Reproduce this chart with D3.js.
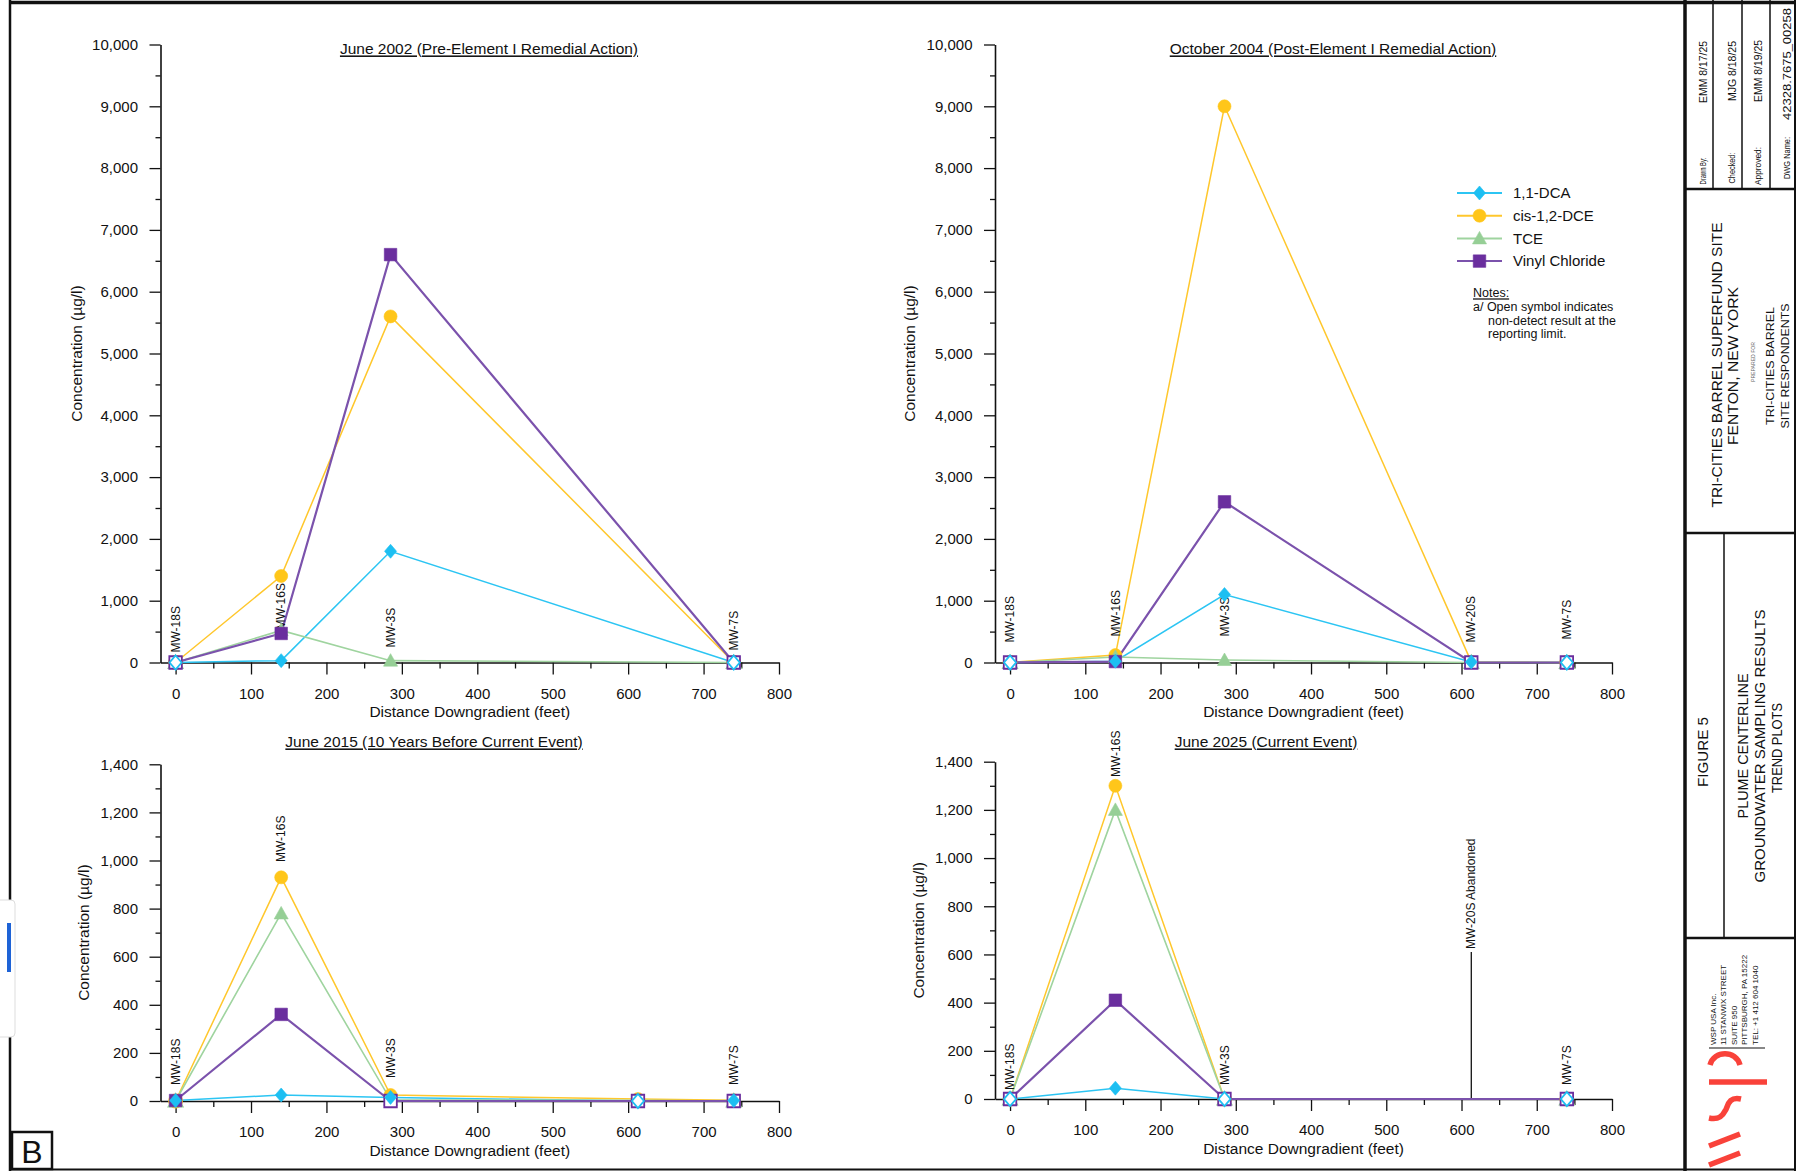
<!DOCTYPE html>
<html>
<head>
<meta charset="utf-8">
<script src="https://cdnjs.cloudflare.com/ajax/libs/d3/7.8.5/d3.min.js"></script>
<style>
  body { margin: 0; background: #fff; }
  svg { display: block; font-family: "Liberation Sans", Arial, sans-serif; }
</style>
</head>
<body>
<div id="chart"></div>
<script>
// wells along the plume centerline and their distance downgradient (feet)
var wells = ["MW-18S", "MW-16S", "MW-3S", "MW-20S", "MW-7S"];
var distance = [0, 140, 285, 613, 740];

var compounds = ["1,1-DCA", "cis-1,2-DCE", "TCE", "Vinyl Chloride"];

// concentrations (ug/l), null = not sampled, 0 = non-detect
var dca2002 = [0, 30, 1800, null, 0];
var dce2002 = [0, 1400, 5600, null, 0];
var tce2002 = [0, 520, 30, null, 0];
var vc2002  = [0, 470, 6600, null, 0];

var dca2004 = [0, 20, 1100, 10, 0];
var dce2004 = [0, 120, 9000, 10, 0];
var tce2004 = [0, 90, 40, 0, 0];
var vc2004  = [0, 15, 2600, 0, 0];

var dca2015 = [2, 25, 15, 0, 2];
var dce2015 = [0, 930, 25, 8, 3];
var tce2015 = [0, 780, 5, 3, 0];
var vc2015  = [2, 360, 0, 0, 0];

var dca2025 = [0, 45, 0, null, 0];
var dce2025 = [0, 1300, 0, null, 0];
var tce2025 = [0, 1200, 0, null, 0];
var vc2025  = [0, 410, 0, null, 0];

// MW-20S abandoned before 2025
var abandonedLabel = "MW-20S Abandoned";
var abandonedDist = 613;
var abandonedTop = 610;

// tick labels
var xTicks = [0, 100, 200, 300, 400, 500, 600, 700, 800];
var yTicksHigh = [0, 1000, 2000, 3000, 4000, 5000, 6000, 7000, 8000, 9000, 10000];
var yTicksLow = [0, 200, 400, 600, 800, 1000, 1200, 1400];

var width = 1796, height = 1171;

var styles = [
    { line: "#2CC5F3", mark: "#1DBFF2", shape: "diamond", w: 1.5 },
    { line: "#FFC72C", mark: "#FFC61A", shape: "circle", w: 1.5 },
    { line: "#9FD49F", mark: "#96CF96", shape: "triangle", w: 1.6 },
    { line: "#7B52AC", mark: "#6A2E9E", shape: "square", w: 2.2 }
];

var panels = [
    { title: "June 2002 (Pre-Element I Remedial Action)", series: [dca2002, dce2002, tce2002, vc2002],
      yTicks: yTicksHigh, minorStep: 500, left: 160.5, right: 779, top: 44.5, bottom: 662.5,
      titleX: 489, titleY: 49, yTitleOff: 84,
      tags: { "MW-18S": 10, "MW-16S": 33, "MW-3S": 15, "MW-7S": 12 } },
    { title: "October 2004 (Post-Element I Remedial Action)", series: [dca2004, dce2004, tce2004, vc2004],
      yTicks: yTicksHigh, minorStep: 500, left: 995, right: 1612, top: 44.5, bottom: 662.5,
      titleX: 1333, titleY: 49, yTitleOff: 85,
      tags: { "MW-18S": 20, "MW-16S": 26, "MW-3S": 26, "MW-20S": 20, "MW-7S": 23 }, legend: true },
    { title: "June 2015 (10 Years Before Current Event)", series: [dca2015, dce2015, tce2015, vc2015],
      yTicks: yTicksLow, minorStep: 100, left: 160.5, right: 779, top: 764.3, bottom: 1101,
      titleX: 434, titleY: 742, yTitleOff: 76.5,
      tags: { "MW-18S": 16, "MW-16S": 239, "MW-3S": 23, "MW-7S": 16 } },
    { title: "June 2025 (Current Event)", series: [dca2025, dce2025, tce2025, vc2025],
      yTicks: yTicksLow, minorStep: 100, left: 995, right: 1612, top: 761.7, bottom: 1099,
      titleX: 1266, titleY: 742, yTitleOff: 76.5,
      tags: { "MW-18S": 9, "MW-16S": 322, "MW-3S": 14, "MW-7S": 14 }, abandoned: true }
];

var svg = d3.select("#chart").append("svg")
    .attr("width", width)
    .attr("height", height);

svg.append("rect").attr("width", width).attr("height", height).attr("fill", "#fff");

function shapePath(kind, cx, cy, s) {
    if (kind === "diamond") {
        return "M" + cx + "," + (cy - 7 * s) + "L" + (cx + 6 * s) + "," + cy +
            "L" + cx + "," + (cy + 7 * s) + "L" + (cx - 6 * s) + "," + cy + "Z";
    }
    if (kind === "triangle") {
        return "M" + cx + "," + (cy - 7 * s) + "L" + (cx + 7 * s) + "," + (cy + 5.5 * s) +
            "L" + (cx - 7 * s) + "," + (cy + 5.5 * s) + "Z";
    }
    // square
    return "M" + (cx - 6.25 * s) + "," + (cy - 6.25 * s) + "h" + (12.5 * s) + "v" + (12.5 * s) + "h" + (-12.5 * s) + "Z";
}

function marker(g, st, cx, cy, open, s) {
    s = s || 1;
    var el;
    if (st.shape === "circle") {
        el = g.append("circle").attr("cx", cx).attr("cy", cy).attr("r", 6.5 * s);
    } else {
        el = g.append("path").attr("d", shapePath(st.shape, cx, cy, s));
    }
    el.attr("fill", open ? "#fff" : st.mark)
        .attr("stroke", st.mark)
        .attr("stroke-width", open ? 1.8 : 0.6);
}

panels.forEach(function(p) {
    var g = svg.append("g");

    var x = d3.scaleLinear().domain([-20, 800]).range([p.left, p.right]);
    var yMax = p.yTicks[p.yTicks.length - 1];
    var y = d3.scaleLinear().domain([0, yMax]).range([p.bottom, p.top]);

    // minor ticks
    var yMinor = d3.range(0, yMax + 1, p.minorStep).filter(function(v) { return p.yTicks.indexOf(v) < 0; });
    var xMinor = d3.range(50, 800, 100);

    g.append("g")
        .attr("transform", "translate(" + p.left + ",0)")
        .call(d3.axisLeft(y).tickValues(yMinor).tickFormat("").tickSize(5).tickSizeOuter(0))
        .call(function(a) { a.select(".domain").remove(); });

    g.append("g")
        .attr("transform", "translate(0," + p.bottom + ")")
        .call(d3.axisBottom(x).tickValues(xMinor).tickFormat("").tickSize(6).tickSizeOuter(0))
        .call(function(a) { a.select(".domain").remove(); });

    var yAxis = g.append("g")
        .attr("transform", "translate(" + p.left + ",0)")
        .call(d3.axisLeft(y).tickValues(p.yTicks).tickFormat(d3.format(",")).tickSize(11).tickPadding(11.5).tickSizeOuter(0));

    var xAxis = g.append("g")
        .attr("transform", "translate(0," + p.bottom + ")")
        .call(d3.axisBottom(x).tickValues(xTicks).tickSize(12).tickPadding(13.5).tickSizeOuter(0));

    g.selectAll(".tick line").attr("stroke", "#111").attr("stroke-width", 1.3);
    g.selectAll(".domain").attr("stroke", "#111").attr("stroke-width", 1.6);
    [yAxis, xAxis].forEach(function(a) {
        a.selectAll("text").attr("font-size", 15).attr("fill", "#111")
            .attr("font-family", "Liberation Sans, Arial, sans-serif");
    });

    // titles
    g.append("text")
        .attr("x", p.titleX).attr("y", p.titleY)
        .attr("dy", "0.35em")
        .attr("text-anchor", "middle")
        .attr("font-size", 15.5)
        .attr("text-decoration", "underline")
        .attr("fill", "#111")
        .text(p.title);

    g.append("text")
        .attr("x", (p.left + p.right) / 2).attr("y", p.bottom + 49.5)
        .attr("dy", "0.35em")
        .attr("text-anchor", "middle")
        .attr("font-size", 15.5)
        .attr("fill", "#111")
        .text("Distance Downgradient (feet)");

    g.append("text")
        .attr("transform", "translate(" + (p.left - p.yTitleOff) + "," + ((p.top + p.bottom) / 2) + ") rotate(-90)")
        .attr("dy", "0.35em")
        .attr("text-anchor", "middle")
        .attr("font-size", 15.5)
        .attr("fill", "#111")
        .text("Concentration (\u00b5g/l)");

    // abandoned well marker
    if (p.abandoned) {
        g.append("line")
            .attr("x1", x(abandonedDist)).attr("x2", x(abandonedDist))
            .attr("y1", y(0)).attr("y2", y(abandonedTop))
            .attr("stroke", "#111").attr("stroke-width", 1.3);
        g.append("text")
            .attr("transform", "translate(" + x(abandonedDist) + "," + (y(abandonedTop) - 3) + ") rotate(-90)")
            .attr("dy", "0.35em")
            .attr("font-size", 12)
            .attr("fill", "#111")
            .text(abandonedLabel);
    }

    // series lines
    var pts = p.series.map(function(vals) {
        return vals.map(function(v, i) { return { d: distance[i], v: v }; })
            .filter(function(o) { return o.v !== null; });
    });

    var line = d3.line()
        .x(function(o) { return x(o.d); })
        .y(function(o) { return y(o.v); });

    pts.forEach(function(ps, k) {
        g.append("path")
            .datum(ps)
            .attr("fill", "none")
            .attr("stroke", styles[k].line)
            .attr("stroke-width", styles[k].w)
            .attr("d", line);
    });

    // well labels
    Object.keys(p.tags).forEach(function(name) {
        var i = wells.indexOf(name);
        g.append("text")
            .attr("transform", "translate(" + x(distance[i]) + "," + (y(0) - p.tags[name]) + ") rotate(-90)")
            .attr("dy", "0.35em")
            .attr("font-size", 12)
            .attr("fill", "#111")
            .text(name);
    });

    // markers: open symbol = non-detect
    [1, 2, 3, 0].forEach(function(k) {
        pts[k].forEach(function(o) {
            marker(g, styles[k], x(o.d), y(o.v), o.v === 0);
        });
    });

    if (p.legend) {
        var lg = svg.append("g");
        compounds.forEach(function(c, k) {
            var ly = 193 + k * 22.7;
            lg.append("line").attr("x1", 1457).attr("x2", 1502).attr("y1", ly).attr("y2", ly)
                .attr("stroke", styles[k].line).attr("stroke-width", 2);
            marker(lg, styles[k], 1479.5, ly, false);
            lg.append("text").attr("x", 1513).attr("y", ly).attr("dy", "0.35em")
                .attr("font-size", 15).attr("fill", "#111").text(c);
        });
        lg.append("text").attr("x", 1473).attr("y", 293).attr("dy", "0.35em")
            .attr("font-size", 12.5).attr("text-decoration", "underline").attr("fill", "#111").text("Notes:");
        var notes = ["a/ Open symbol indicates", "non-detect result at the", "reporting limit."];
        notes.forEach(function(t, i) {
            lg.append("text").attr("x", i === 0 ? 1473 : 1488).attr("y", 307 + i * 13.5).attr("dy", "0.35em")
                .attr("font-size", 12.5).attr("fill", "#111").text(t);
        });
    }
});

// drawing frame
var fr = svg.append("g").attr("stroke", "#111").attr("fill", "none");
fr.append("line").attr("x1", 10).attr("x2", 1796).attr("y1", 2.5).attr("y2", 2.5).attr("stroke-width", 3.5);
fr.append("line").attr("x1", 10).attr("x2", 10).attr("y1", 0).attr("y2", 1171).attr("stroke-width", 2.5);
fr.append("line").attr("x1", 10).attr("x2", 1796).attr("y1", 1169.5).attr("y2", 1169.5).attr("stroke-width", 2);
fr.append("line").attr("x1", 1685).attr("x2", 1685).attr("y1", 0).attr("y2", 1171).attr("stroke-width", 3.5);
fr.append("line").attr("x1", 1795).attr("x2", 1795).attr("y1", 0).attr("y2", 1171).attr("stroke-width", 2);

// title block grid
[1713, 1742, 1770].forEach(function(xx) {
    fr.append("line").attr("x1", xx).attr("x2", xx).attr("y1", 0).attr("y2", 189).attr("stroke-width", 1.5);
});
fr.append("line").attr("x1", 1685).attr("x2", 1796).attr("y1", 189).attr("y2", 189).attr("stroke-width", 2.5);
fr.append("line").attr("x1", 1685).attr("x2", 1796).attr("y1", 533).attr("y2", 533).attr("stroke-width", 2.5);
fr.append("line").attr("x1", 1724).attr("x2", 1724).attr("y1", 533).attr("y2", 938).attr("stroke-width", 1.5);
fr.append("line").attr("x1", 1685).attr("x2", 1796).attr("y1", 938).attr("y2", 938).attr("stroke-width", 2.5);

var tb = svg.append("g").attr("fill", "#111");

function vtext(cx, cy, str, size, anchor, len) {
    var t = tb.append("text")
        .attr("transform", "translate(" + (cx + size * 0.36) + "," + cy + ") rotate(-90)")
        .attr("text-anchor", anchor || "middle")
        .attr("font-size", size)
        .text(str);
    if (len) t.attr("textLength", len).attr("lengthAdjust", "spacingAndGlyphs");
    return t;
}

vtext(1703, 171, "Drawn  By:", 9, "middle", 27);
vtext(1732, 168, "Checked:", 9, "middle", 31);
vtext(1758, 166, "Approved:", 9, "middle", 38);
vtext(1787, 158, "DWG  Name:", 9, "middle", 42);
vtext(1703, 72, "EMM 8/17/25", 10.5, "middle", 62);
vtext(1732, 71, "MJG 8/18/25", 10.5, "middle", 60);
vtext(1758, 71, "EMM 8/19/25", 10.5, "middle", 62);
vtext(1787, 64, "42328.7675_00258", 10.5, "middle", 112);

vtext(1717, 365, "TRI-CITIES BARREL SUPERFUND SITE", 15, "middle", 285);
vtext(1733, 366, "FENTON, NEW YORK", 15, "middle", 158);
vtext(1753, 362, "PREPARED FOR", 5.5, "middle", 40).attr("fill", "#666");
vtext(1770, 366, "TRI-CITIES BARREL", 11.5, "middle", 118);
vtext(1785, 366, "SITE RESPONDENTS", 11.5, "middle", 125);

vtext(1703, 752, "FIGURE 5", 14.5, "middle", 70);
vtext(1743, 746, "PLUME CENTERLINE", 14, "middle", 145);
vtext(1760, 746, "GROUNDWATER SAMPLING RESULTS", 14, "middle", 273);
vtext(1777, 748, "TREND PLOTS", 14, "middle", 90);

var address = ["WSP USA Inc.", "11 STANWIX STREET", "SUITE 950", "PITTSBURGH, PA 15222", "TEL: +1 412 604 1040"];
address.forEach(function(a, i) {
    vtext(1713 + i * 10.5, 1045, a, 8, "start");
});
fr.append("line").attr("x1", 1709).attr("x2", 1765).attr("y1", 1048).attr("y2", 1048).attr("stroke-width", 1.2);

// WSP logo (rotated)
var logo = svg.append("g").attr("stroke", "#F9423A").attr("fill", "none").attr("stroke-width", 5.5).attr("stroke-linecap", "butt");
logo.append("path").attr("d", "M1710,1065 C1714,1050 1736,1050 1740,1065");
logo.append("path").attr("d", "M1709,1082 L1767,1082");
logo.append("path").attr("d", "M1741,1099 C1727,1096 1728,1108 1725,1111 C1722,1117 1718,1120 1709,1118");
logo.append("path").attr("d", "M1709,1146 L1740,1134");
logo.append("path").attr("d", "M1709,1165 L1740,1153");

// "B" box
svg.append("rect").attr("x", 12).attr("y", 1132).attr("width", 40).attr("height", 37)
    .attr("fill", "#fff").attr("stroke", "#111").attr("stroke-width", 2.5);
svg.append("text").attr("x", 32).attr("y", 1163).attr("text-anchor", "middle")
    .attr("font-size", 32).attr("fill", "#111").text("B");

// viewer side tab artifact at left edge
svg.append("rect").attr("x", -4).attr("y", 900).attr("width", 19).attr("height", 137).attr("rx", 4)
    .attr("fill", "#fff").attr("stroke", "#ddd").attr("stroke-width", 1);
svg.append("rect").attr("x", 7).attr("y", 923).attr("width", 4).attr("height", 49).attr("fill", "#1E63D6");
</script>
</body>
</html>
